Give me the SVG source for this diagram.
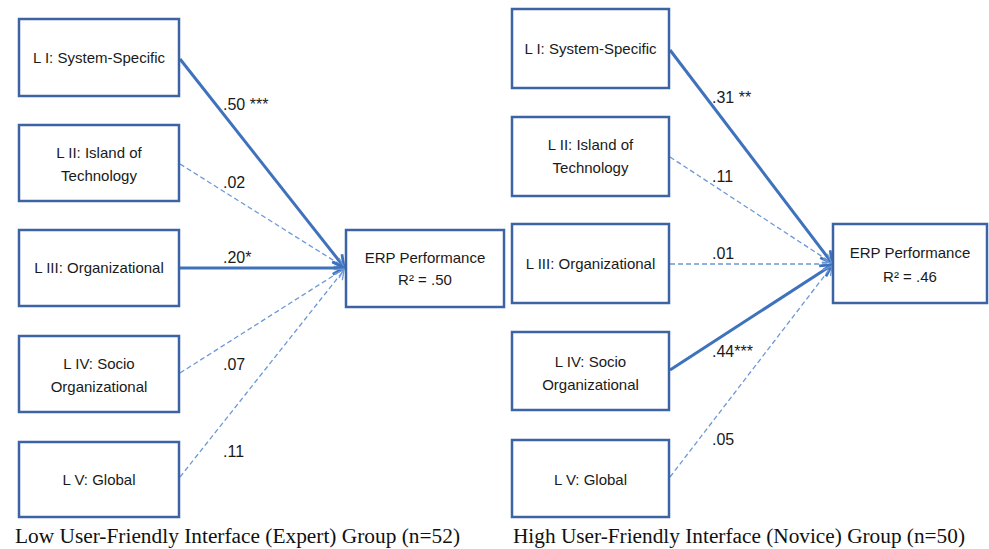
<svg xmlns="http://www.w3.org/2000/svg" width="989" height="549" viewBox="0 0 989 549">
<defs>
<style>
.box{fill:#fff;stroke:#3c64a4;stroke-width:2.5}
.t{font-family:"Liberation Sans",Arial,sans-serif;font-size:15px;fill:#1a1a1a;text-anchor:middle}
.lb{font-family:"Liberation Sans",Arial,sans-serif;font-size:16px;fill:#1a1a1a}
.cap{font-family:"Liberation Serif","Times New Roman",serif;font-size:20px;fill:#111}
.solid{stroke:#3f72bd;stroke-width:3;fill:none}
.dash{stroke:#6c98d6;stroke-width:1.3;stroke-dasharray:5 3;fill:none}
</style>
<marker id="ah" viewBox="0 0 12 12" refX="11" refY="6" markerWidth="15" markerHeight="15" markerUnits="userSpaceOnUse" orient="auto">
<path d="M2,1 L11,6 L2,11" fill="none" stroke="#3f72bd" stroke-width="2.2"/>
</marker>
<marker id="ahd" viewBox="0 0 12 12" refX="11" refY="6" markerWidth="12" markerHeight="12" markerUnits="userSpaceOnUse" orient="auto">
<path d="M2,1 L11,6 L2,11" fill="none" stroke="#6c98d6" stroke-width="1.3"/>
</marker>
</defs>
<rect width="989" height="549" fill="#fff"/>

<g id="connectors">
<line class="solid" x1="180" y1="59" x2="344" y2="267" marker-end="url(#ah)"/>
<line class="dash" x1="180" y1="164" x2="344" y2="267" marker-end="url(#ahd)"/>
<line class="solid" x1="180" y1="268" x2="344" y2="268" marker-end="url(#ah)"/>
<line class="dash" x1="180" y1="373" x2="344" y2="269" marker-end="url(#ahd)"/>
<line class="dash" x1="180" y1="477" x2="344" y2="270" marker-end="url(#ahd)"/>

<line class="solid" x1="670" y1="50" x2="832" y2="263" marker-end="url(#ah)"/>
<line class="dash" x1="670" y1="157" x2="832" y2="263" marker-end="url(#ahd)"/>
<line class="dash" x1="670" y1="264" x2="832" y2="264" marker-end="url(#ahd)"/>
<line class="solid" x1="670" y1="370" x2="832" y2="265" marker-end="url(#ah)"/>
<line class="dash" x1="670" y1="477" x2="832" y2="266" marker-end="url(#ahd)"/>

<text class="lb" x="223" y="110">.50 ***</text>
<text class="lb" x="223" y="188">.02</text>
<text class="lb" x="223" y="263">.20*</text>
<text class="lb" x="223" y="370">.07</text>
<text class="lb" x="223" y="457">.11</text>

<text class="lb" x="712" y="103">.31 **</text>
<text class="lb" x="712" y="182">.11</text>
<text class="lb" x="712" y="259">.01</text>
<text class="lb" x="712" y="357">.44***</text>
<text class="lb" x="712" y="445">.05</text>
</g>

<g id="a1"><rect class="box" x="19" y="19" width="160" height="77"/><text class="t" x="99" y="63">L I: System-Specific</text></g>
<g id="a2"><rect class="box" x="19" y="125" width="160" height="76"/><text class="t" x="99" y="158">L II: Island of</text><text class="t" x="99" y="181">Technology</text></g>
<g id="a3"><rect class="box" x="19" y="230" width="160" height="76"/><text class="t" x="99" y="273">L III: Organizational</text></g>
<g id="a4"><rect class="box" x="19" y="336" width="160" height="76"/><text class="t" x="99" y="369">L IV: Socio</text><text class="t" x="99" y="392">Organizational</text></g>
<g id="a5"><rect class="box" x="19" y="442" width="160" height="75"/><text class="t" x="99" y="485">L V: Global</text></g>
<g id="a6"><rect class="box" x="346" y="230" width="158" height="77"/><text class="t" x="425" y="263">ERP Performance</text><text class="t" x="425" y="285">R² = .50</text></g>

<g id="b1"><rect class="box" x="512" y="9" width="157" height="79"/><text class="t" x="590.5" y="54">L I: System-Specific</text></g>
<g id="b2"><rect class="box" x="512" y="117" width="157" height="79"/><text class="t" x="590.5" y="150">L II: Island of</text><text class="t" x="590.5" y="173">Technology</text></g>
<g id="b3"><rect class="box" x="512" y="224" width="157" height="79"/><text class="t" x="590.5" y="269">L III: Organizational</text></g>
<g id="b4"><rect class="box" x="512" y="332" width="157" height="78"/><text class="t" x="590.5" y="367">L IV: Socio</text><text class="t" x="590.5" y="390">Organizational</text></g>
<g id="b5"><rect class="box" x="512" y="440" width="157" height="77"/><text class="t" x="590.5" y="485">L V: Global</text></g>
<g id="b6"><rect class="box" x="833" y="224" width="154" height="79"/><text class="t" x="910" y="258">ERP Performance</text><text class="t" x="910" y="282">R² = .46</text></g>

<text class="cap" x="15" y="543" textLength="445" lengthAdjust="spacingAndGlyphs">Low User-Friendly Interface (Expert) Group (n=52)</text>
<text class="cap" x="513" y="543" textLength="452" lengthAdjust="spacingAndGlyphs">High User-Friendly Interface (Novice) Group (n=50)</text>
</svg>
